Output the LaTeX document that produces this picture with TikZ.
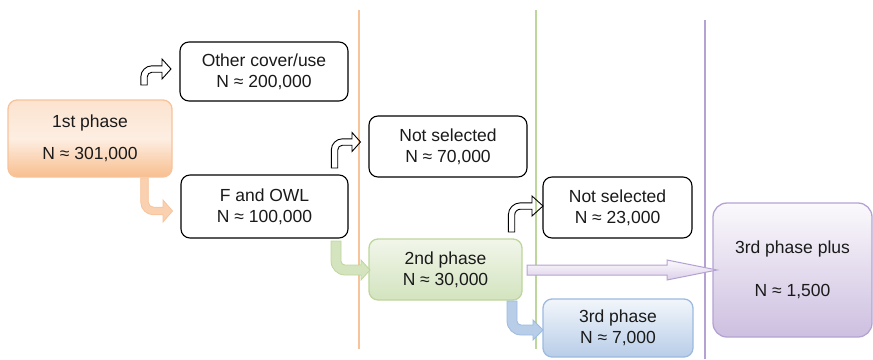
\documentclass[tikz,border=0pt]{standalone}
\usepackage{fontspec}
\setmainfont{Liberation Sans}
\usetikzlibrary{calc}
\definecolor{txt}{HTML}{1A1A1A}
\definecolor{oLine}{HTML}{F7C39B}
\definecolor{oTop}{HTML}{FCE3CF}
\definecolor{oBot}{HTML}{F8BE8E}
\definecolor{gLine}{HTML}{BDD69B}
\definecolor{gTop}{HTML}{F1F6EA}
\definecolor{gBot}{HTML}{D3E4BF}
\definecolor{bLine}{HTML}{9DBAE0}
\definecolor{bTop}{HTML}{F2F6FB}
\definecolor{bBot}{HTML}{B8CDE8}
\definecolor{pLine}{HTML}{B4A3D2}
\definecolor{pTop}{HTML}{FBF9FC}
\definecolor{pBot}{HTML}{CDBFE0}
\definecolor{pArr}{HTML}{DCD0EA}
\pgfkeys{/turn/.cd, h/.initial=3, H/.initial=20, R/.initial=8, L/.initial=18,
  hl/.initial=9, hh/.initial=10, dir/.initial=1}
\tikzset{
  turnset/.code={\pgfkeys{/turn/.cd,#1}},
  turn/.pic={
    \pgfmathsetmacro\ah{\pgfkeysvalueof{/turn/h}}
    \pgfmathsetmacro\aH{\pgfkeysvalueof{/turn/H}}
    \pgfmathsetmacro\aR{\pgfkeysvalueof{/turn/R}}
    \pgfmathsetmacro\aL{\pgfkeysvalueof{/turn/L}}
    \pgfmathsetmacro\al{\pgfkeysvalueof{/turn/hl}}
    \pgfmathsetmacro\aw{\pgfkeysvalueof{/turn/hh}}
    \pgfmathsetmacro\ao{0.5523*(\aR+\ah)}
    \pgfmathsetmacro\ai{0.5523*(\aR-\ah)}
    \path[pic actions, y=\pgfkeysvalueof{/turn/dir}pt]
      (-\ah,0) -- (-\ah,\aH-\aR)
      .. controls (-\ah,\aH-\aR+\ao) and (\aR-\ao,\aH+\ah) .. (\aR,\aH+\ah)
      -- (\aL,\aH+\ah) -- (\aL,\aH+\aw) -- (\aL+\al,\aH) -- (\aL,\aH-\aw)
      -- (\aL,\aH-\ah) -- (\aR,\aH-\ah)
      .. controls (\aR-\ai,\aH-\ah) and (\ah,\aH-\aR+\ai) .. (\ah,\aH-\aR)
      -- (\ah,0) -- cycle;
  },
  base/.style={rounded corners=9pt, align=center, text=txt, inner sep=0pt,
    font=\fontsize{17.5}{21}\selectfont},
  plainbox/.style={base, draw=black, line width=1.1pt, fill=white},
  orangebox/.style={base, draw=oLine, line width=1.3pt, top color=oTop, bottom color=oBot, middle color=oTop!60!white},
  greenbox/.style={base, draw=gLine, line width=1.3pt, top color=gTop, bottom color=gBot},
  bluebox/.style={base, draw=bLine, line width=1.3pt, top color=bTop, bottom color=bBot},
  purplebox/.style={base, rounded corners=14pt, draw=pLine, line width=1.3pt, top color=pTop, bottom color=pBot},
  upturn/.style={draw=black, line width=0.9pt},
  sepline/.style={line width=2pt},
}
\begin{document}
\begin{tikzpicture}[x=1pt,y=-1pt]
\useasboundingbox (0,0) rectangle (873,359);
% separator lines
\draw[sepline, oLine] (359,10) coordinate (o1) -- (359,349) coordinate (o2);
\draw[sepline, gLine] (536,10) coordinate (g1) -- (536,349) coordinate (g2);
\draw[sepline, pLine] (705,20) coordinate (p1) -- (705,359) coordinate (p2);
% boxes
\node[orangebox, minimum width=164pt, minimum height=77pt] (first) at (90,138.5) {1st phase\\[11pt]N ≈ 301,000};
\node[plainbox, minimum width=168pt, minimum height=59pt] (other) at (264,71.5) {Other cover/use\\N ≈ 200,000};
\node[plainbox, minimum width=167pt, minimum height=63pt] (fowl) at (264.5,206.5) {F and OWL\\N ≈ 100,000};
\node[plainbox, minimum width=158pt, minimum height=61pt] (ns1) at (448,146.5) {Not selected\\N ≈ 70,000};
\node[plainbox, minimum width=149pt, minimum height=61pt] (ns2) at (617.5,207.5) {Not selected\\N ≈ 23,000};
\node[greenbox, minimum width=153pt, minimum height=61pt] (second) at (445.5,269.5) {2nd phase\\N ≈ 30,000};
\node[bluebox, minimum width=150pt, minimum height=58pt] (third) at (618,328) {3rd phase\\N ≈ 7,000};
\node[purplebox, minimum width=159pt, minimum height=134pt] (plus) at (792.5,270) {3rd phase plus\\[22pt]N ≈ 1,500};
% turning arrows
\pic[upturn, turnset={h=3.2,H=16,R=8,L=18,hl=9,hh=10}] at (144,85) {turn};
\pic[upturn, turnset={h=3.2,H=26,R=8,L=17.5,hl=8.5,hh=9.5}] at (334.5,168) {turn};
\pic[upturn, turnset={h=3.2,H=26,R=9,L=20.5,hl=11,hh=10}] at (511.5,232) {turn};
\pic[draw=oLine, fill=oBot!70!white, line width=0.8pt, turnset={dir=-1,h=3.8,H=33,R=9,L=18.5,hl=9.5,hh=11}] at (144.5,178) {turn};
\pic[draw=gLine, fill=gBot, line width=0.8pt, turnset={dir=-1,h=5,H=29,R=9,L=25,hl=9,hh=10}] at (336,241) {turn};
\pic[draw=bLine, fill=bBot, line width=0.8pt, turnset={dir=-1,h=5,H=29,R=9,L=21,hl=10,hh=10}] at (512,301) {turn};
% long purple arrow
\coordinate (a0) at (527,270);
\coordinate (a1) at (717,270);
\draw[pLine, line width=1pt, top color=pTop, bottom color=pArr]
  ($(a0)+(0,-5)$) -- ($(a1)+(-50,-5)$) -- ($(a1)+(-50,-10)$) -- (a1)
  -- ($(a1)+(-50,10)$) -- ($(a1)+(-50,5)$) -- ($(a0)+(0,5)$) -- cycle;
\end{tikzpicture}
\end{document}
